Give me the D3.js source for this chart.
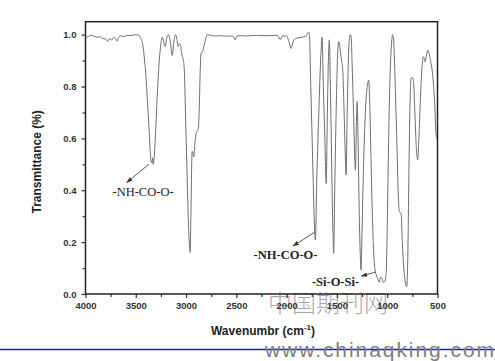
<!DOCTYPE html>
<html><head><meta charset="utf-8">
<script src="https://cdn.jsdelivr.net/npm/d3@7"></script>
<style>
html,body{margin:0;padding:0;background:#fff;}
svg{display:block;}
</style></head>
<body>
<script>
// ---- data ----
const wavenumbers = [4000,3975,3950,3920,3890,3860,3830,3800,3780,3760,3740,3720,3700,3685,3670,3650,3620,3580,3540,3500,3470,3450,3430,3415,3400,3385,3370,3358,3348,3340,3332,3325,3315,3300,3285,3270,3255,3235,3208,3190,3172,3155,3138,3122,3105,3092,3080,3068,3056,3045,3036,3026,3016,3006,2996,2986,2976,2966,2959,2952,2945,2940,2932,2923,2912,2900,2880,2870,2860,2850,2835,2820,2800,2790,2750,2700,2650,2600,2560,2530,2512,2495,2450,2400,2300,2200,2120,2090,2062,2045,2000,1975,1955,1935,1906,1850,1806,1780,1773,1760,1750,1737,1724,1714,1700,1680,1660,1647,1635,1620,1607,1595,1585,1575,1565,1550,1540,1532,1522,1505,1490,1482,1470,1455,1442,1430,1418,1409,1398,1385,1372,1366,1358,1350,1335,1322,1316,1307,1299,1290,1280,1270,1260,1250,1235,1215,1195,1184,1175,1160,1145,1130,1120,1110,1095,1078,1065,1051,1040,1028,1011,1000,990,975,960,945,935,920,905,890,879,862,850,835,820,806,795,785,775,762,750,740,725,710,697,685,670,655,640,630,623,610,597,585,570,548,530,514,505];
const transmittance = [0.99,0.992,0.998,0.995,0.99,0.992,0.985,0.983,0.975,0.985,0.98,0.99,0.985,0.975,0.99,0.995,0.993,0.997,0.997,1.0,0.998,0.985,0.96,0.91,0.845,0.75,0.65,0.56,0.51,0.505,0.525,0.5,0.54,0.65,0.78,0.88,0.95,0.99,0.955,0.99,1.0,0.97,0.92,0.97,1.0,0.985,0.955,0.965,0.963,0.93,0.915,0.9,0.85,0.7,0.55,0.4,0.27,0.19,0.16,0.3,0.48,0.55,0.545,0.53,0.58,0.62,0.635,0.7,0.85,0.93,0.935,0.96,0.99,1.0,0.997,0.995,0.996,0.994,0.995,0.993,0.98,0.995,0.996,0.995,0.997,0.996,0.997,0.997,0.98,0.995,0.995,0.97,0.947,0.975,0.986,0.99,0.995,1.01,1.0,0.8,0.65,0.45,0.27,0.208,0.45,0.7,0.92,0.99,0.8,0.6,0.427,0.7,0.9,0.98,0.8,0.45,0.25,0.157,0.4,0.75,0.95,0.973,0.95,0.9,0.864,0.72,0.55,0.459,0.7,0.92,0.995,1.0,0.99,0.9,0.7,0.52,0.478,0.65,0.742,0.6,0.35,0.18,0.093,0.25,0.5,0.72,0.81,0.825,0.75,0.5,0.27,0.13,0.09,0.075,0.06,0.045,0.065,0.06,0.045,0.047,0.075,0.25,0.5,0.8,0.95,1.0,0.97,0.8,0.6,0.38,0.317,0.31,0.2,0.1,0.045,0.028,0.15,0.45,0.7,0.832,0.835,0.826,0.7,0.56,0.517,0.6,0.75,0.87,0.915,0.905,0.896,0.92,0.94,0.93,0.9,0.845,0.75,0.613,0.6];
const xTickValues = [4000,3500,3000,2500,2000,1500,1000,500];
const xTickLabels = ["4000","3500","3000","2500","2000","1500","1000","500"];
const xMinorTicks = [3750,3250,2750,2250,1750,1250,750];
const yTickValues = [0.0,0.2,0.4,0.6,0.8,1.0];
const yTickLabels = ["0.0","0.2","0.4","0.6","0.8","1.0"];
const yMinorTicks = [0.1,0.3,0.5,0.7,0.9];
const annotationTexts = ["-NH-CO-O-", "-NH-CO-O-", "-Si-O-Si-"];
const annotationBold = [false, true, true];
const annotationLabelWn = [3428, 2011, 1514];
const annotationLabelT = [0.378, 0.135, 0.031];
const arrowFromWn = [3370, 1716, 1111];
const arrowFromT = [0.50, 0.24, 0.085];
const arrowToWn = [3590, 1935, 1256];
const arrowToT = [0.43, 0.185, 0.069];

// ---- chart ----
const W = 495, H = 361;
const svg = d3.select("body").append("svg").attr("width", W).attr("height", H);

svg.append("defs").append("marker")
  .attr("id","arr").attr("viewBox","0 0 10 10").attr("refX",9).attr("refY",5)
  .attr("markerWidth",7).attr("markerHeight",7).attr("orient","auto")
  .append("path").attr("d","M0,1.5 L10,5 L0,8.5 Z").attr("fill","#333");

svg.select("defs").append("clipPath").attr("id","clip")
  .append("rect").attr("x",85.5).attr("y",21.7).attr("width",352).attr("height",272.3);

const x = d3.scaleLinear().domain([4000, 500]).range([85.5, 437.5]);
const y = d3.scaleLinear().domain([0, 1.05]).range([294, 21.7]);

const axisFont = "'Liberation Sans', Arial, sans-serif";

// watermark CJK (behind the axes)
svg.append("text").attr("x",268).attr("y",312)
  .attr("font-family","'Noto Sans CJK SC',sans-serif").attr("font-size","24px").attr("font-weight","300")
  .attr("fill","#9a9a9a").attr("fill-opacity",0.85)
  .text("中国期刊网");

// bottom axis
const gx = svg.append("g").attr("transform", `translate(0,${y(0)})`)
  .call(d3.axisBottom(x).tickValues(xTickValues).tickFormat((d,i)=>xTickLabels[i]).tickSize(4).tickPadding(4));
const gxm = svg.append("g").attr("transform", `translate(0,${y(0)})`)
  .call(d3.axisBottom(x).tickValues(xMinorTicks).tickFormat("").tickSize(3));
// left axis
const gy = svg.append("g").attr("transform", `translate(${x(4000)},0)`)
  .call(d3.axisLeft(y).tickValues(yTickValues).tickFormat((d,i)=>yTickLabels[i]).tickSize(4).tickPadding(5));
const gym = svg.append("g").attr("transform", `translate(${x(4000)},0)`)
  .call(d3.axisLeft(y).tickValues(yMinorTicks).tickFormat("").tickSize(3));

[gx,gxm,gy,gym].forEach(g=>{
  g.select(".domain").remove();
  g.selectAll(".tick line").attr("stroke","#333").attr("stroke-width",1.2);
  g.selectAll(".tick text").attr("fill","#333").attr("font-family",axisFont)
    .attr("font-weight","bold").attr("font-size","9.5px");
});

// frame
svg.append("rect").attr("x",x(4000)).attr("y",y(1.05))
  .attr("width",x(500)-x(4000)).attr("height",y(0)-y(1.05))
  .attr("fill","none").attr("stroke","#222").attr("stroke-width",1.5);

// spectrum
const pts = wavenumbers.map((w,i)=>[w, transmittance[i]]);
const line = d3.line().x(d=>x(d[0])).y(d=>y(d[1])).curve(d3.curveMonotoneX);
svg.append("path").datum(pts).attr("d", line).attr("clip-path","url(#clip)")
  .attr("fill","none").attr("stroke","#6e6e6e").attr("stroke-width",1);

// axis titles
svg.append("text").attr("transform",`translate(41,${(y(0)+y(1.05))/2+4}) rotate(-90)`)
  .attr("text-anchor","middle").attr("font-family",axisFont).attr("font-weight","bold")
  .attr("font-size","12px").attr("fill","#222").text("Transmittance (%)");
const xt = svg.append("text").attr("x",263).attr("y",335).attr("text-anchor","middle")
  .attr("font-family",axisFont).attr("font-weight","bold").attr("font-size","12px").attr("fill","#222");
xt.append("tspan").text("Wavenumbr (cm");
xt.append("tspan").attr("dy","-5").attr("font-size","8px").text("-1");
xt.append("tspan").attr("dy","5").text(")");

// annotations
annotationTexts.forEach((t,i)=>{
  svg.append("text").attr("x",x(annotationLabelWn[i])).attr("y",y(annotationLabelT[i]))
    .attr("text-anchor","middle")
    .attr("font-family","'Liberation Serif','Times New Roman',serif")
    .attr("font-weight",annotationBold[i]?"bold":"normal").attr("font-size","12.5px").attr("fill","#222")
    .text(t);
  svg.append("line").attr("x1",x(arrowFromWn[i])).attr("y1",y(arrowFromT[i]))
    .attr("x2",x(arrowToWn[i])).attr("y2",y(arrowToT[i]))
    .attr("stroke","#444").attr("stroke-width",0.9).attr("marker-end","url(#arr)");
});

// watermark line + url
svg.append("line").attr("x1",0).attr("x2",W).attr("y1",349.5).attr("y2",349.5)
  .attr("stroke","#1515ee").attr("stroke-width",1.5);
svg.append("text").attr("x",265).attr("y",357)
  .attr("font-family","'Liberation Sans',Arial,sans-serif").attr("font-size","21px")
  .attr("textLength",229).attr("lengthAdjust","spacing")
  .attr("fill","#7e7e7e")
  .text("www.chinaqking.com");
</script>
</body></html>
